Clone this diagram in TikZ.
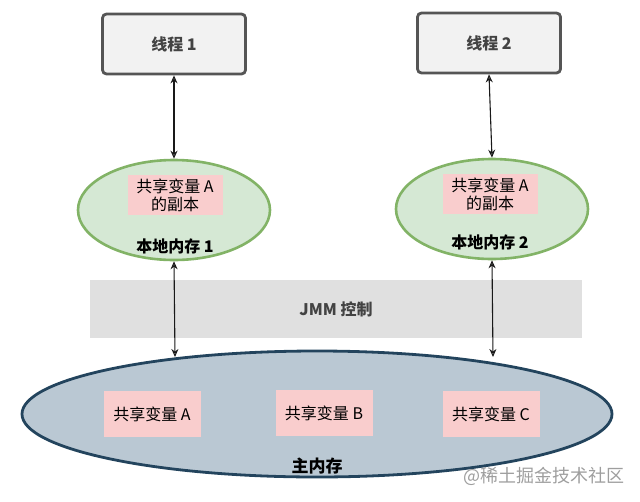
\documentclass[tikz,border=0pt]{standalone}
\usepackage{fontspec}
\setmainfont{Noto Sans CJK SC}
\usetikzlibrary{shapes.geometric,arrows.meta}
\definecolor{thrfill}{HTML}{F2F2F2}
\definecolor{thrdraw}{HTML}{555555}
\definecolor{locfill}{HTML}{D5E8D4}
\definecolor{locdraw}{HTML}{82B366}
\definecolor{pinkfill}{HTML}{F9CDCD}
\definecolor{jmmfill}{HTML}{E0E0E0}
\definecolor{mainfill}{HTML}{BAC8D3}
\definecolor{maindraw}{HTML}{23445D}
\definecolor{txt}{HTML}{222222}
\tikzset{
  thread/.style={draw=thrdraw, line width=2.8pt, fill=thrfill, rounded corners=4pt,
    minimum width=143pt, minimum height=60pt, font=\fontsize{16}{18}\selectfont\bfseries, text=txt!85!white},
  localmem/.style={ellipse, draw=locdraw, line width=2.6pt, fill=locfill, minimum width=192pt, minimum height=100pt, inner sep=0pt},
  pinkbox/.style={fill=pinkfill, minimum width=95pt, minimum height=40pt, inner sep=1pt, align=center,
    font=\fontsize{16}{18}\selectfont, text=black},
  lbl/.style={font=\fontsize{16}{18}\selectfont\bfseries, text=black},
  jmmbar/.style={fill=jmmfill, minimum width=492pt, minimum height=58pt, inner sep=0pt,
    font=\fontsize{16}{18}\selectfont\bfseries, text=txt!85!white},
  mainmem/.style={ellipse, draw=maindraw, line width=2.8pt, fill=mainfill, minimum width=590pt, minimum height=126pt, inner sep=0pt},
  link/.style={line width=1.1pt, draw=black!90, {Stealth[open,length=8pt,width=7pt]}-{Stealth[open,length=8pt,width=7pt]}},
}
\begin{document}
\begin{tikzpicture}[x=1pt,y=-1pt]
\useasboundingbox (0,0) rectangle (640,501);
% JMM bar
\node[jmmbar] (jmm) at (336,309) {JMM 控制};
% threads
\node[thread] (t1) at (174,44) {线程 1};
\node[thread] (t2) at (489,43) {线程 2};
% local memories
\node[localmem] (l1) at (174,210) {};
\node[localmem] (l2) at (492,209) {};
\node[pinkbox] (p1) at (175,195) {共享变量 A\\的副本};
\node[pinkbox] (p2) at (490,194) {共享变量 A\\的副本};
\node[lbl] (n1) at (175,246) {本地内存 1};
\node[lbl] (n2) at (490,242) {本地内存 2};
% main memory
\node[mainmem] (mm) at (317,414) {};
\node[pinkbox, minimum width=97pt, minimum height=46pt] (ma) at (152,414) {共享变量 A};
\node[pinkbox, minimum width=97pt, minimum height=46pt] (mb) at (324,413) {共享变量 B};
\node[pinkbox, minimum width=97pt, minimum height=46pt] (mc) at (491,414) {共享变量 C};
\node[lbl, font=\fontsize{17}{19}\selectfont\bfseries] (mlbl) at (317,466) {主内存};
% connectors
\coordinate (m1) at (175,357);
\coordinate (m2) at (493,357);
\draw[link] (t1.south) -- (l1.north);
\draw[link] (t2.south) -- (l2.north);
\draw[link] (l1.south) -- (m1);
\draw[link] (l2.south) -- (m2);
% watermark
\node[font=\fontsize{18}{20}\selectfont, text=black!38] (wm) at (544,476) {@稀土掘金技术社区};
\end{tikzpicture}
\end{document}
